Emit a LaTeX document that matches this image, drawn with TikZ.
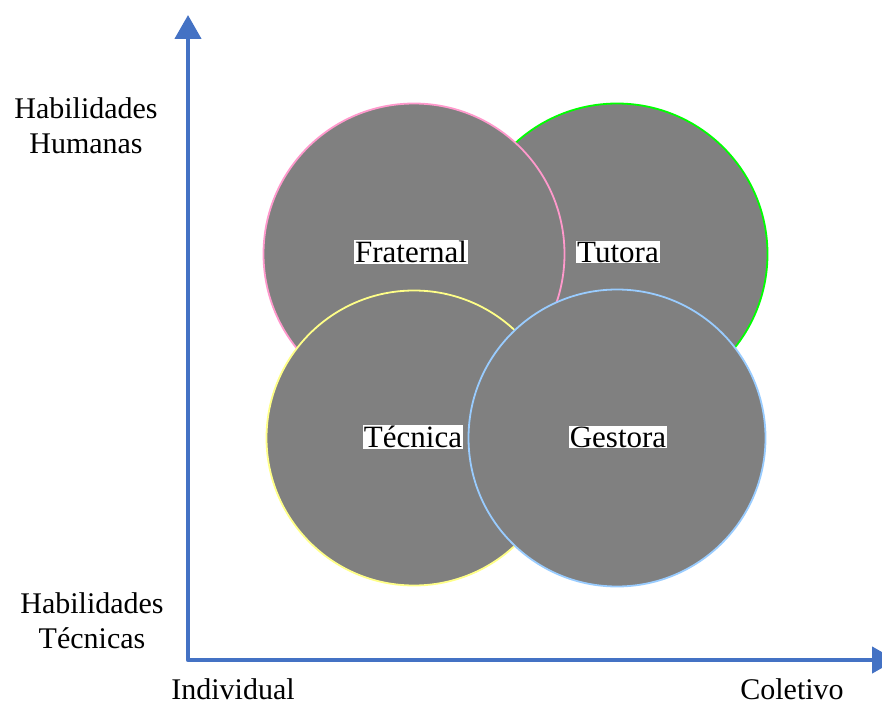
\documentclass[tikz,border=0pt]{standalone}
\usepackage{fontspec}
\setmainfont{Liberation Serif}
\usetikzlibrary{arrows.meta}
\definecolor{axisblue}{HTML}{4472C4}
\definecolor{cgray}{HTML}{808080}
\definecolor{cpink}{HTML}{FF99CC}
\definecolor{cgreen}{HTML}{00FF00}
\definecolor{cyellow}{HTML}{FFFF88}
\definecolor{cblue}{HTML}{99CCFF}
\tikzset{
  bubble/.style={circle, fill=cgray, line width=1.8pt, inner sep=0pt, minimum size=#1},
  tag/.style={fill=white, inner sep=0.8pt, font=\fontsize{31}{36}\selectfont},
  axlabel/.style={align=center, inner sep=0pt, font=\fontsize{30}{35}\selectfont},
  axis/.style={draw=axisblue, line width=4.5pt, line join=round, {Triangle[length=24pt,width=26pt]}-{Triangle[length=24pt,width=26pt]}}
}
\begin{document}
\begin{tikzpicture}[x=1pt, y=-1pt]
\useasboundingbox (0,0) rectangle (882,706);
% axes
\coordinate (top) at (188,15);
\coordinate (corner) at (188,660);
\coordinate (right) at (896,660);
\draw[axis] (top) -- (corner) -- (right);
% circles
\node[bubble=301pt, draw=cgreen] (tut) at (617,254) {};
\node[bubble=301pt, draw=cpink] (fra) at (414,254) {};
\node[bubble=295pt, draw=cyellow] (tec) at (414,438) {};
\node[bubble=297pt, draw=cblue] (ges) at (617,438) {};
% labels
\node[tag] (lfra) at (411,252) {Fraternal};
\node[tag] (ltut) at (618,252) {Tutora};
\node[tag] (ltec) at (413,437) {Técnica};
\node[tag] (lges) at (618,437) {Gestora};
% axis labels
\node[axlabel] (hh) at (86,126) {Habilidades\\Humanas};
\node[axlabel] (ht) at (92,621) {Habilidades\\Técnicas};
\node[axlabel, anchor=base] (ind) at (233,699) {Individual};
\node[axlabel, anchor=base] (col) at (792,699) {Coletivo};
\end{tikzpicture}
\end{document}
